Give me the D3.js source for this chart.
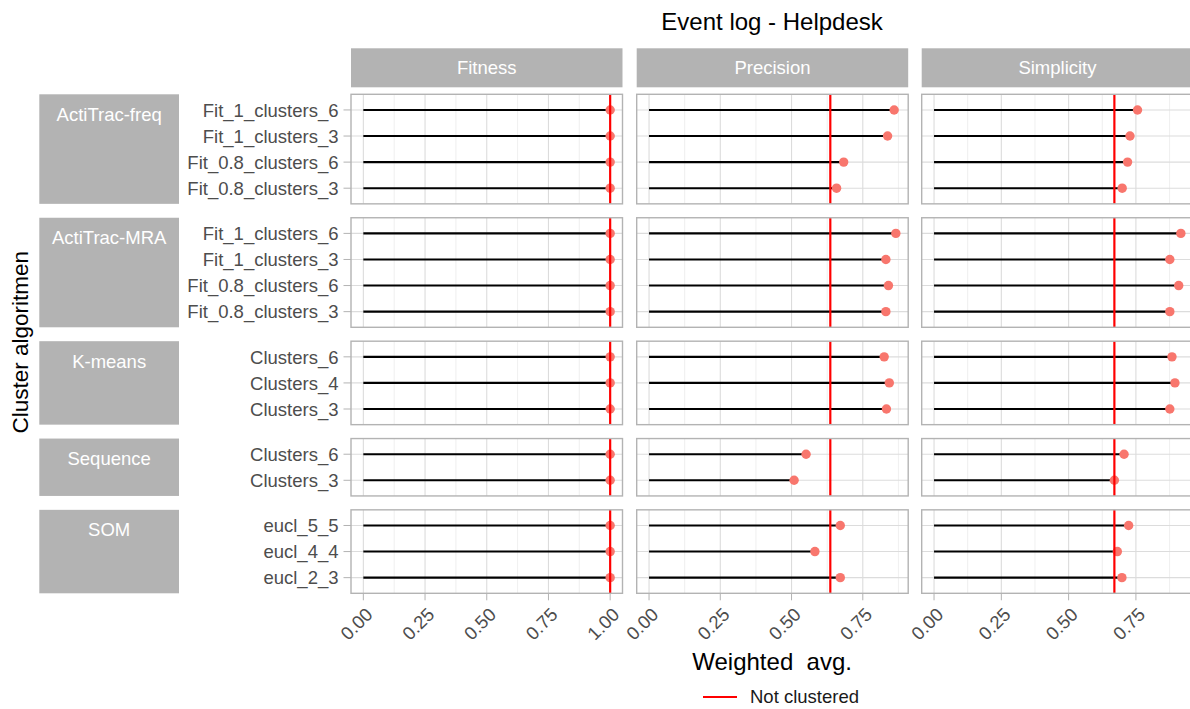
<!DOCTYPE html>
<html>
<head>
<meta charset="utf-8">
<script src="https://cdn.jsdelivr.net/npm/d3@7"></script>
<style>
  html, body { margin: 0; padding: 0; background: #ffffff; }
  svg { display: block; font-family: "Liberation Sans", Arial, sans-serif; }
</style>
</head>
<body>
<svg id="chart" width="1190" height="709"></svg>
<script>
// ---------------- data ----------------
const title = "Event log - Helpdesk";
const metrics = ["Fitness", "Precision", "Simplicity"];
const groups = ["ActiTrac-freq", "ActiTrac-MRA", "K-means", "Sequence", "SOM"];
const configs = [
  ["Fit_1_clusters_6", "Fit_1_clusters_3", "Fit_0.8_clusters_6", "Fit_0.8_clusters_3"],
  ["Fit_1_clusters_6", "Fit_1_clusters_3", "Fit_0.8_clusters_6", "Fit_0.8_clusters_3"],
  ["Clusters_6", "Clusters_4", "Clusters_3"],
  ["Clusters_6", "Clusters_3"],
  ["eucl_5_5", "eucl_4_4", "eucl_2_3"]
];
const fitness = [
  [1.0, 1.0, 1.0, 1.0],
  [1.0, 1.0, 1.0, 1.0],
  [1.0, 1.0, 1.0],
  [1.0, 1.0],
  [1.0, 1.0, 1.0]
];
const precision = [
  [0.860, 0.837, 0.683, 0.658],
  [0.866, 0.831, 0.840, 0.831],
  [0.825, 0.843, 0.833],
  [0.551, 0.509],
  [0.671, 0.582, 0.671]
];
const simplicity = [
  [0.756, 0.728, 0.719, 0.699],
  [0.917, 0.876, 0.909, 0.876],
  [0.884, 0.895, 0.876],
  [0.706, 0.670],
  [0.723, 0.681, 0.698]
];
const notClustered = [1.0, 0.636, 0.670];
const xTicks = [0, 0.25, 0.5, 0.75, 1.0];
const xMinor = [0.125, 0.375, 0.625, 0.875];
const xTitle = "Weighted  avg.";
const yTitle = "Cluster algoritmen";
const legendLabel = "Not clustered";

const valuesByMetric = [fitness, precision, simplicity];

// ---------------- layout ----------------
const svg = d3.select("#chart");
const colLeft = [351, 636.7, 921.7];
const colWidth = 271.5;
const panelTop = 94.3, panelBottom = 593.3, gapY = 13.9;
const stripTop = 48.3, stripH = 39;
const leftStripX = 39.3, leftStripW = 139.7;
const GRAY70 = "#b3b3b3";
const fontAxis = 18.5;
const panelsCenter = (colLeft[0] + colLeft[2] + colWidth) / 2;

// row heights proportional to n + 0.2 (discrete expansion)
const units = configs.map(c => c.length + 0.2);
const totalUnits = d3.sum(units);
const unitPx = (panelBottom - panelTop - gapY * (groups.length - 1)) / totalUnits;
const rowTops = [];
let yy = panelTop;
units.forEach(u => { rowTops.push(yy); yy += u * unitPx + gapY; });

// x scales per metric (0 .. max with 5% expansion)
const xScales = valuesByMetric.map((vals, m) => {
  const mx = d3.max(vals.flat().concat([notClustered[m]]));
  const pad = mx * 0.05;
  return d3.scaleLinear().domain([-pad, mx + pad]).range([colLeft[m], colLeft[m] + colWidth]);
});

// title
svg.append("text")
  .attr("x", panelsCenter).attr("y", 29.5)
  .attr("text-anchor", "middle")
  .attr("font-size", 24).attr("fill", "#000")
  .text(title);

// top strips
metrics.forEach((m, i) => {
  svg.append("rect")
    .attr("x", colLeft[i]).attr("y", stripTop)
    .attr("width", colWidth).attr("height", stripH)
    .attr("fill", GRAY70);
  svg.append("text")
    .attr("x", colLeft[i] + colWidth / 2).attr("y", stripTop + stripH / 2)
    .attr("dy", "0.35em")
    .attr("text-anchor", "middle")
    .attr("font-size", fontAxis).attr("fill", "#ffffff")
    .text(m);
});

// rows
groups.forEach((g, gi) => {
  const top = rowTops[gi];
  const h = units[gi] * unitPx;
  const y = d3.scalePoint().domain(configs[gi]).range([top, top + h]).padding(0.6);

  // left strip
  svg.append("rect")
    .attr("x", leftStripX).attr("y", top)
    .attr("width", leftStripW).attr("height", h)
    .attr("fill", GRAY70);
  svg.append("text")
    .attr("x", leftStripX + leftStripW / 2).attr("y", top + 26.4)
    .attr("text-anchor", "middle")
    .attr("font-size", fontAxis).attr("fill", "#ffffff")
    .text(g);

  // y axis labels & ticks
  configs[gi].forEach(c => {
    svg.append("line")
      .attr("x1", colLeft[0] - 7.5).attr("x2", colLeft[0])
      .attr("y1", y(c)).attr("y2", y(c))
      .attr("stroke", GRAY70).attr("stroke-width", 1);
    svg.append("text")
      .attr("x", colLeft[0] - 12.5).attr("y", y(c))
      .attr("dy", "0.36em")
      .attr("text-anchor", "end")
      .attr("font-size", fontAxis).attr("fill", "#4d4d4d")
      .text(c);
  });

  metrics.forEach((m, mi) => {
    const x = xScales[mi];
    const [x0, x1] = x.range();
    const panel = svg.append("g");
    // grid minor
    xMinor.filter(v => x(v) >= x0 && x(v) <= x1).forEach(v => {
      panel.append("line")
        .attr("x1", x(v)).attr("x2", x(v)).attr("y1", top).attr("y2", top + h)
        .attr("stroke", "#ebebeb").attr("stroke-width", 0.8);
    });
    // grid major
    xTicks.filter(v => x(v) >= x0 && x(v) <= x1).forEach(v => {
      panel.append("line")
        .attr("x1", x(v)).attr("x2", x(v)).attr("y1", top).attr("y2", top + h)
        .attr("stroke", "#dcdcdc").attr("stroke-width", 1.1);
    });
    configs[gi].forEach(c => {
      panel.append("line")
        .attr("x1", x0).attr("x2", x1).attr("y1", y(c)).attr("y2", y(c))
        .attr("stroke", "#dcdcdc").attr("stroke-width", 1.1);
    });
    // segments
    const vals = valuesByMetric[mi][gi];
    configs[gi].forEach((c, ci) => {
      panel.append("line")
        .attr("x1", x(0)).attr("x2", x(vals[ci]))
        .attr("y1", y(c)).attr("y2", y(c))
        .attr("stroke", "#000").attr("stroke-width", 2.1);
    });
    // points
    configs[gi].forEach((c, ci) => {
      panel.append("circle")
        .attr("cx", x(vals[ci])).attr("cy", y(c)).attr("r", 4.7)
        .attr("fill", "#F8766D");
    });
    // not clustered vline
    panel.append("line")
      .attr("x1", x(notClustered[mi])).attr("x2", x(notClustered[mi]))
      .attr("y1", top).attr("y2", top + h)
      .attr("stroke", "#ff0000").attr("stroke-width", 2.2);
    // border
    panel.append("rect")
      .attr("x", x0).attr("y", top).attr("width", colWidth).attr("height", h)
      .attr("fill", "none").attr("stroke", GRAY70).attr("stroke-width", 1.4);
  });
});

// bottom x axes
const axisY = rowTops[groups.length - 1] + units[groups.length - 1] * unitPx;
metrics.forEach((m, mi) => {
  const x = xScales[mi];
  const [x0, x1] = x.range();
  xTicks.filter(v => x(v) >= x0 && x(v) <= x1).forEach(v => {
    svg.append("line")
      .attr("x1", x(v)).attr("x2", x(v)).attr("y1", axisY).attr("y2", axisY + 7)
      .attr("stroke", GRAY70).attr("stroke-width", 1);
    svg.append("text")
      .attr("transform", `translate(${x(v) + 1},${axisY + 13}) rotate(-45)`)
      .attr("dy", "0.72em")
      .attr("text-anchor", "end")
      .attr("font-size", fontAxis).attr("fill", "#4d4d4d")
      .text(d3.format(".2f")(v));
  });
});

// axis titles
svg.append("text")
  .attr("x", panelsCenter).attr("y", 670)
  .attr("text-anchor", "middle")
  .attr("font-size", 24).attr("fill", "#000")
  .attr("xml:space", "preserve")
  .style("white-space", "pre")
  .text(xTitle);
svg.append("text")
  .attr("transform", `translate(28,${(panelTop + panelBottom) / 2 - 1.5}) rotate(-90)`)
  .attr("text-anchor", "middle")
  .attr("font-size", 22.5).attr("fill", "#000")
  .text(yTitle);

// legend
svg.append("line")
  .attr("x1", 703).attr("x2", 737).attr("y1", 697).attr("y2", 697)
  .attr("stroke", "#ff0000").attr("stroke-width", 2.2);
svg.append("text")
  .attr("x", 750).attr("y", 697).attr("dy", "0.35em")
  .attr("font-size", fontAxis).attr("fill", "#1a1a1a")
  .text(legendLabel);
</script>
</body>
</html>
